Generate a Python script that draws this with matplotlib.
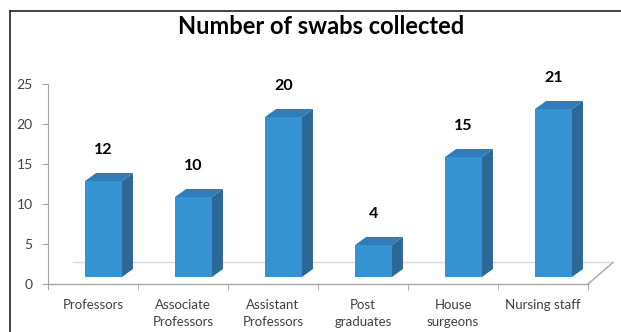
import numpy as np
import matplotlib
matplotlib.use('Agg')
import matplotlib.pyplot as plt
from matplotlib.patches import Polygon
from matplotlib.lines import Line2D

plt.rcParams['font.family'] = ['Lato', 'DejaVu Sans']

categories = ['Professors', 'Associate\nProfessors', 'Assistant\nProfessors',
              'Post\ngraduates', 'House\nsurgeons', 'Nursing staff']
swabs = [12, 10, 20, 4, 15, 21]
yticks = [0, 5, 10, 15, 20, 25]

# colours of the faked 3d boxes
c_front = '#3593d2'
c_top = '#2f7cba'
c_side = '#2c6898'
c_axis = '#a6a6a6'

W, H = 621, 332
fig = plt.figure(figsize=(W / 100, H / 100), dpi=100)
ax = fig.add_axes([48 / W, (H - 284) / H, 540 / W, 200 / H])

x = np.arange(len(swabs))
shift = 0.117      # bars sit a bit right of the category centre
bw = 0.41
base = 0.875       # front face floats above the front floor edge
ddx, ddy = 0.122, 1.0   # depth offset in data units

ax.bar(x + shift, swabs, width=bw, bottom=base, color=c_front, zorder=3)
for xi, v in zip(x, swabs):
    x0 = xi + shift - bw / 2
    x1 = xi + shift + bw / 2
    top = base + v
    ax.add_patch(Polygon([(x0, top), (x1, top), (x1 + ddx, top + ddy), (x0 + ddx, top + ddy)],
                         closed=True, facecolor=c_top, edgecolor='none', zorder=3))
    ax.add_patch(Polygon([(x1, base), (x1, top), (x1 + ddx, top + ddy), (x1 + ddx, base + ddy)],
                         closed=True, facecolor=c_side, edgecolor='none', zorder=3))
    ax.text(xi + shift, v + 4.8, str(v), ha='center', va='center',
            fontsize=11.5, fontweight='bold', color='black')

# floor: front axis line, back edge and right diagonal
fdx, fdy = 0.28, 2.7
ax.plot([-0.5, 5.5], [0, 0], color=c_axis, lw=1, clip_on=False, zorder=2)
ax.plot([-0.5 + fdx, 5.5 + fdx], [fdy, fdy], color='#d9d9d9', lw=1, clip_on=False, zorder=1)
ax.plot([5.5, 5.5 + fdx], [0, fdy], color=c_axis, lw=1, clip_on=False, zorder=2)

ax.set_xlim(-0.5, 5.5)
ax.set_ylim(0, 25)
ax.set_yticks(yticks)
ax.set_xticks(x)
ax.set_xticklabels(categories, fontsize=9.5, color='#404040', linespacing=1.45)
ax.set_xticks(np.arange(-0.5, 6, 1), minor=True)
ax.tick_params(axis='x', which='major', length=0, pad=11)
ax.tick_params(axis='x', which='minor', length=4, color=c_axis, direction='out')
ax.tick_params(axis='y', length=4, color=c_axis, labelsize=10, labelcolor='#404040', pad=7)
for s in ['top', 'right', 'bottom']:
    ax.spines[s].set_visible(False)
ax.spines['left'].set_color(c_axis)
ax.spines['left'].set_bounds(-0.5, 25)

fig.text(321 / W, 1 - 27 / H, 'Number of swabs collected', ha='center', va='center',
         fontsize=17, fontweight='bold', color='black')

# frame lines around the chart area
fig.add_artist(Line2D([10 / W, 10 / W], [0, 1 - 11 / H], color='#333333', lw=1.3))
fig.add_artist(Line2D([10 / W, 1], [1 - 11 / H, 1 - 11 / H], color='#333333', lw=1.3))

fig.savefig('out.png', dpi=100)
